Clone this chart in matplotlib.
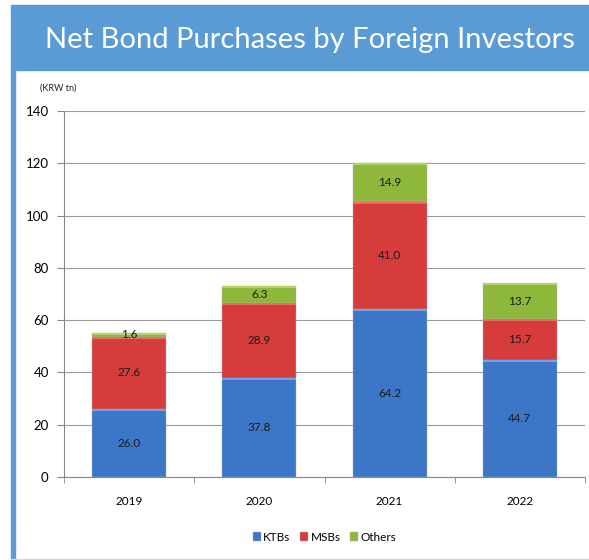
import numpy as np
import matplotlib.pyplot as plt
from matplotlib.patches import Rectangle

# dane
years = ["2019", "2020", "2021", "2022"]
ktbs = [26.0, 37.8, 64.2, 44.7]
msbs = [27.6, 28.9, 41.0, 15.7]
others = [1.6, 6.3, 14.9, 13.7]

plt.rcParams["font.family"] = ["Lato", "DejaVu Sans"]

fig = plt.figure(figsize=(5.89, 5.60), dpi=100)
fig.patch.set_facecolor("white")

# banner + left strip
fig.patches.append(Rectangle((11 / 589, 1 - 70 / 560), 1, 65 / 560,
                             transform=fig.transFigure, color="#5b9bd5", zorder=0))
fig.patches.append(Rectangle((11 / 589, 0), 4 / 589, 1 - 70 / 560,
                             transform=fig.transFigure, color="#5b9bd5", zorder=0))
fig.patches.append(Rectangle((11 / 589, 0), 1, 1.5 / 560,
                             transform=fig.transFigure, color="#c5d9ef", zorder=0))
fig.text(310 / 589, 1 - 40 / 560, "Net Bond Purchases by Foreign Investors",
         color="white", fontsize=21, ha="center", va="center")
fig.text(40 / 589, 1 - 88 / 560, "(KRW tn)", fontsize=6.5, ha="left", va="center",
         color="#222222")

ax = fig.add_axes([64 / 589, 1 - 477 / 560, 521 / 589, 366 / 560])
x = np.arange(len(years))
w = 0.57

series = [
    (ktbs, np.zeros(4), "#3b77c6", "#6aa7ea", "KTBs"),
    (msbs, np.array(ktbs), "#d63c3c", "#ee6a6a", "MSBs"),
    (others, np.array(ktbs) + np.array(msbs), "#8db83c", "#b0d560", "Others"),
]
for vals, base, col, light, lab in series:
    ax.bar(x, vals, w, bottom=base, color=col, edgecolor="#b0b0b0",
           linewidth=0.3, label=lab, zorder=3)
    # lighter top edge for the bevel look
    ax.bar(x, [0.8] * 4, w, bottom=base + np.array(vals) - 0.8,
           color=light, linewidth=0, zorder=4)
    for xi, v, b in zip(x, vals, base):
        ax.text(xi, b + v / 2, f"{v:.1f}", ha="center", va="center",
                fontsize=8.5, color="#1a1a1a", zorder=5)

ax.set_xlim(-0.5, 3.5)
ax.set_ylim(0, 140)
ax.set_yticks(range(0, 141, 20))
ax.set_xticks(x)
ax.set_xticklabels(years)
ax.set_xticks(np.arange(-0.5, 4, 1), minor=True)
ax.tick_params(axis="x", which="major", length=0, pad=14, labelsize=8.5)
ax.tick_params(axis="x", which="minor", length=4, color="#888888")
ax.tick_params(axis="y", length=5, color="#888888", labelsize=9.5, pad=6)
ax.grid(axis="y", color="#9a9a9a", linewidth=0.8, zorder=0)

for s in ["top", "right"]:
    ax.spines[s].set_visible(False)
ax.spines["left"].set_color("#888888")
ax.spines["bottom"].set_color("#888888")

ax.legend(loc="upper center", bbox_to_anchor=(0.5, -0.12), ncol=3, frameon=False,
          fontsize=8.5, handlelength=0.7, handleheight=0.7, handletextpad=0.2,
          columnspacing=0.8)

plt.savefig("out.png", dpi=100)
plt.close()
